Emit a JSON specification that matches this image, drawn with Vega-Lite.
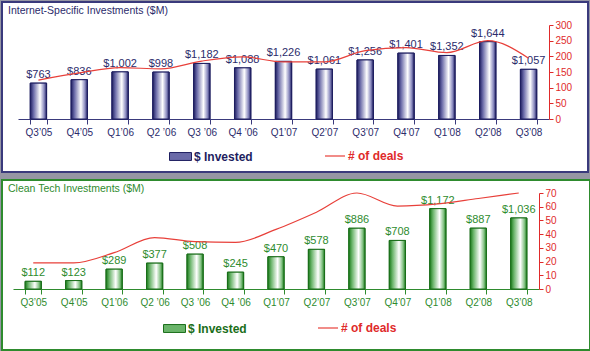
{
  "$schema": "https://vega.github.io/schema/vega-lite/v6.json",
  "background": "#9696a4",
  "padding": {"left": 1, "top": 1, "right": 0, "bottom": 0},
  "spacing": 6,
  "config": {"font": "Liberation Sans", "view": {"fill": "white"}},
  "resolve": {"scale": {"x": "independent", "fill": "independent", "stroke": "independent"}, "legend": {"fill": "independent", "stroke": "independent"}},
  "datasets": {
    "internet": [
      {"q": "Q3’05", "inv": 763, "deals": 124},
      {"q": "Q4’05", "inv": 836, "deals": 147},
      {"q": "Q1’06", "inv": 1002, "deals": 164},
      {"q": "Q2 ’06", "inv": 998, "deals": 160},
      {"q": "Q3 ’06", "inv": 1182, "deals": 185},
      {"q": "Q4 ’06", "inv": 1088, "deals": 198},
      {"q": "Q1’07", "inv": 1226, "deals": 182},
      {"q": "Q2’07", "inv": 1061, "deals": 182},
      {"q": "Q3’07", "inv": 1256, "deals": 218},
      {"q": "Q4’07", "inv": 1401, "deals": 228},
      {"q": "Q1’08", "inv": 1352, "deals": 212},
      {"q": "Q2’08", "inv": 1644, "deals": 250},
      {"q": "Q3’08", "inv": 1057, "deals": 194}
    ],
    "clean": [
      {"q": "Q3’05", "inv": 112, "deals": 19},
      {"q": "Q4’05", "inv": 123, "deals": 19},
      {"q": "Q1’06", "inv": 289, "deals": 26.5},
      {"q": "Q2 ’06", "inv": 377, "deals": 37.5},
      {"q": "Q3 ’06", "inv": 508, "deals": 34.5},
      {"q": "Q4 ’06", "inv": 245, "deals": 34},
      {"q": "Q1’07", "inv": 470, "deals": 43.5},
      {"q": "Q2’07", "inv": 578, "deals": 56},
      {"q": "Q3’07", "inv": 886, "deals": 70},
      {"q": "Q4’07", "inv": 708, "deals": 60.5},
      {"q": "Q1’08", "inv": 1172, "deals": 62},
      {"q": "Q2’08", "inv": 887, "deals": 66},
      {"q": "Q3’08", "inv": 1036, "deals": 76}
    ]
  },
  "vconcat": [
    {
      "width": 586,
      "height": 170,
      "view": {"fill": "white", "stroke": "#3a3a7c", "strokeWidth": 2},
      "title": {"text": "Internet-Specific Investments ($M)", "anchor": "start", "frame": "group", "offset": -14, "dx": 6, "fontSize": 10.5, "fontWeight": "normal", "font": "Liberation Sans", "color": "#2b2b6b"},
      "data": {"name": "internet"},
      "encoding": {
        "x": {"field": "q", "type": "ordinal", "sort": null,
          "scale": {"range": [16, 547], "paddingInner": 0.6, "paddingOuter": 0.3},
          "axis": {"title": null, "labelAngle": 0, "tickBand": "extent", "offset": -53, "domainColor": "#3a3a7c", "tickColor": "#3a3a7c", "labelColor": "#2b2b6b", "labelFontSize": 10, "labelFont": "Liberation Sans", "labelPadding": 3, "tickSize": 5, "domainWidth": 1.2}}
      },
      "layer": [
        {
          "mark": {"type": "bar", "stroke": "#1e1e60", "strokeWidth": 1},
          "encoding": {
            "y": {"field": "inv", "type": "quantitative", "scale": {"domain": [0, 2000], "range": [117, 23]}, "axis": null},
            "fill": {"datum": "$ Invested", "type": "nominal", "scale": {"range": ["#6a6aa8"]},
              "legend": {"title": null, "orient": "none", "legendX": 167, "legendY": 143, "padding": 0, "symbolType": "M-1,-0.36H1V0.36H-1Z", "symbolSize": 484, "symbolStrokeColor": "#1e1e60", "symbolStrokeWidth": 1, "labelColor": "#1e1e60", "labelFontSize": 12, "labelFontWeight": "bold", "labelOffset": 2}}
          }
        },
        {
          "mark": {"type": "bar", "stroke": "#1e1e60", "strokeWidth": 1,
            "color": {"gradient": "linear", "x1": 0, "x2": 1, "y1": 0, "y2": 0, "stops": [{"offset": 0, "color": "#1e1e60"}, {"offset": 0.2, "color": "#6a6aa8"}, {"offset": 0.6, "color": "#ffffff"}, {"offset": 0.85, "color": "#8a8abf"}, {"offset": 1, "color": "#1e1e60"}]}},
          "encoding": {
            "y": {"field": "inv", "type": "quantitative", "scale": {"domain": [0, 2000], "range": [117, 23]}, "axis": null}
          }
        },
        {
          "mark": {"type": "text", "baseline": "bottom", "dy": -3, "fontSize": 11, "color": "#2b2b6b"},
          "encoding": {
            "y": {"field": "inv", "type": "quantitative", "scale": {"domain": [0, 2000], "range": [117, 23]}, "axis": null},
            "text": {"field": "inv", "type": "quantitative", "format": "$,.0f"}
          }
        },
        {
          "mark": {"type": "line", "interpolate": "monotone", "strokeWidth": 1.2},
          "encoding": {
            "y": {"field": "deals", "type": "quantitative", "scale": {"domain": [0, 300], "range": [117, 23]},
              "axis": {"orient": "right", "offset": -39, "title": null, "grid": false, "values": [0, 50, 100, 150, 200, 250, 300], "domainColor": "#e02a2a", "tickColor": "#e02a2a", "labelColor": "#e02a2a", "labelFontSize": 10, "labelFont": "Liberation Sans", "tickSize": 4, "labelPadding": 2}},
            "stroke": {"datum": "# of deals", "type": "nominal", "scale": {"range": ["#e8403a"]},
              "legend": {"title": null, "orient": "none", "legendX": 322, "legendY": 143, "padding": 0, "symbolType": "stroke", "symbolSize": 400, "symbolStrokeWidth": 1.2, "labelColor": "#e02a2a", "labelFontSize": 12, "labelFontWeight": "bold", "labelOffset": 2}}
          }
        }
      ],
      "resolve": {"scale": {"y": "independent"}, "axis": {"y": "independent"}}
    },
    {
      "width": 588,
      "height": 170,
      "view": {"fill": "white", "stroke": "#2e8b2e", "strokeWidth": 2},
      "title": {"text": "Clean Tech Investments ($M)", "anchor": "start", "frame": "group", "offset": -14, "dx": 6, "fontSize": 10.5, "fontWeight": "normal", "font": "Liberation Sans", "color": "#2e8b2e"},
      "data": {"name": "clean"},
      "encoding": {
        "x": {"field": "q", "type": "ordinal", "sort": null,
          "scale": {"range": [11, 537], "paddingInner": 0.6, "paddingOuter": 0.3},
          "axis": {"title": null, "labelAngle": 0, "tickBand": "extent", "offset": -61, "domainColor": "#2e8b2e", "tickColor": "#2e8b2e", "labelColor": "#2e8b2e", "labelFontSize": 10, "labelFont": "Liberation Sans", "labelPadding": 3, "tickSize": 5, "domainWidth": 1.2}}
      },
      "layer": [
        {
          "mark": {"type": "bar", "stroke": "#1a6e1a", "strokeWidth": 1},
          "encoding": {
            "y": {"field": "inv", "type": "quantitative", "scale": {"domain": [0, 1400], "range": [109, 13]}, "axis": null},
            "fill": {"datum": "$ Invested", "type": "nominal", "scale": {"range": ["#6ab46a"]},
              "legend": {"title": null, "orient": "none", "legendX": 161, "legendY": 137, "padding": 0, "symbolType": "M-1,-0.36H1V0.36H-1Z", "symbolSize": 484, "symbolStrokeColor": "#1a6e1a", "symbolStrokeWidth": 1, "labelColor": "#1a6e1a", "labelFontSize": 12, "labelFontWeight": "bold", "labelOffset": 2}}
          }
        },
        {
          "mark": {"type": "bar", "stroke": "#1a6e1a", "strokeWidth": 1,
            "color": {"gradient": "linear", "x1": 0, "x2": 1, "y1": 0, "y2": 0, "stops": [{"offset": 0, "color": "#1a7a1a"}, {"offset": 0.2, "color": "#6ab46a"}, {"offset": 0.6, "color": "#ffffff"}, {"offset": 0.85, "color": "#86c386"}, {"offset": 1, "color": "#1a7a1a"}]}},
          "encoding": {
            "y": {"field": "inv", "type": "quantitative", "scale": {"domain": [0, 1400], "range": [109, 13]}, "axis": null}
          }
        },
        {
          "mark": {"type": "text", "baseline": "bottom", "dy": -3, "fontSize": 11, "color": "#2e8b2e"},
          "encoding": {
            "y": {"field": "inv", "type": "quantitative", "scale": {"domain": [0, 1400], "range": [109, 13]}, "axis": null},
            "text": {"field": "inv", "type": "quantitative", "format": "$,.0f"}
          }
        },
        {
          "mark": {"type": "line", "interpolate": "monotone", "strokeWidth": 1.2},
          "encoding": {
            "y": {"field": "deals", "type": "quantitative", "scale": {"domain": [0, 70], "range": [109, 13], "clamp": true},
              "axis": {"orient": "right", "offset": -51, "title": null, "grid": false, "values": [0, 10, 20, 30, 40, 50, 60, 70], "domainColor": "#e02a2a", "tickColor": "#e02a2a", "labelColor": "#e02a2a", "labelFontSize": 10, "labelFont": "Liberation Sans", "tickSize": 4, "labelPadding": 2}},
            "stroke": {"datum": "# of deals", "type": "nominal", "scale": {"range": ["#e8403a"]},
              "legend": {"title": null, "orient": "none", "legendX": 315, "legendY": 137, "padding": 0, "symbolType": "stroke", "symbolSize": 400, "symbolStrokeWidth": 1.2, "labelColor": "#e02a2a", "labelFontSize": 12, "labelFontWeight": "bold", "labelOffset": 2}}
          }
        }
      ],
      "resolve": {"scale": {"y": "independent"}, "axis": {"y": "independent"}}
    }
  ]
}
